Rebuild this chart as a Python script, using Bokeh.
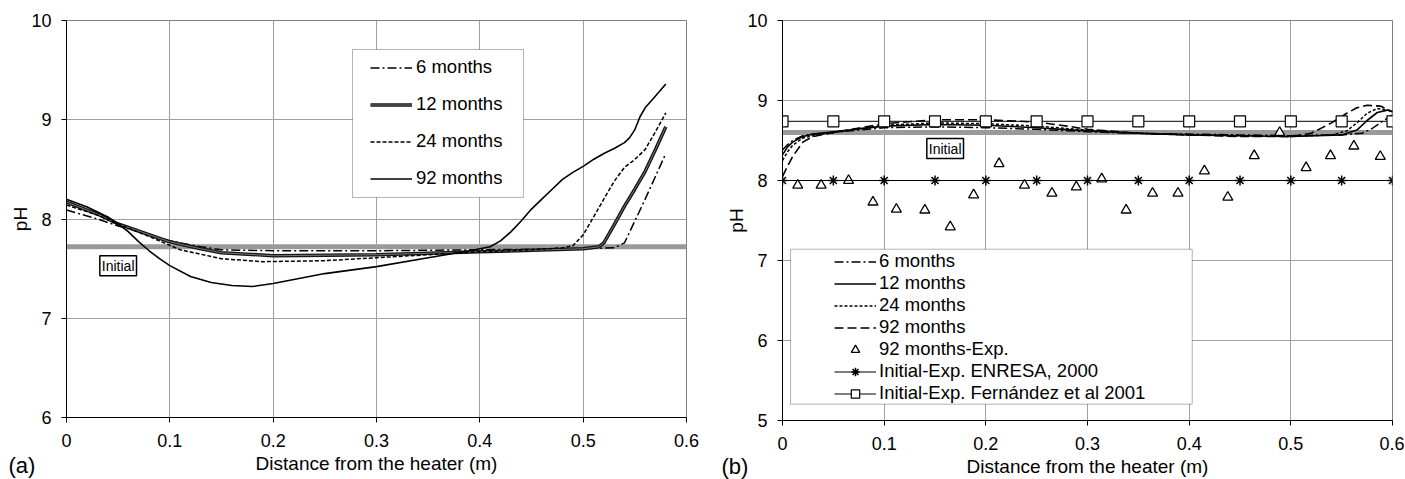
from bokeh.plotting import figure
from bokeh.layouts import row
from bokeh.models import (Legend, LegendItem, Label, BoxAnnotation, FixedTicker, Range1d)
from bokeh.embed import file_html
from bokeh.resources import INLINE

FONT = "Liberation Sans"

# ---------------- data: panel (a) ----------------
a_initial_x = [0.0, 0.6]
a_initial_y = [7.72, 7.72]

a6_x = [0.0, 0.03, 0.05, 0.1, 0.13, 0.15, 0.2, 0.3, 0.4, 0.5, 0.53, 0.54, 0.55, 0.56, 0.57, 0.58]
a6_y = [8.09, 8.0, 7.93, 7.78, 7.72, 7.69, 7.68, 7.68, 7.69, 7.7, 7.71, 7.76, 7.98, 8.2, 8.43, 8.66]

a12_x = [0.0, 0.03, 0.05, 0.1, 0.13, 0.15, 0.2, 0.3, 0.4, 0.5, 0.515, 0.52, 0.53, 0.54, 0.55, 0.56, 0.57, 0.58]
a12_y = [8.17, 8.05, 7.95, 7.77, 7.7, 7.66, 7.63, 7.64, 7.67, 7.7, 7.72, 7.76, 7.94, 8.13, 8.3, 8.48, 8.7, 8.93]

a24_x = [0.0, 0.03, 0.05, 0.09, 0.11, 0.15, 0.19, 0.25, 0.3, 0.35, 0.4, 0.45, 0.48, 0.49, 0.5, 0.51, 0.52, 0.53, 0.54, 0.55, 0.56, 0.57, 0.58]
a24_y = [8.14, 8.04, 7.95, 7.78, 7.69, 7.6, 7.57, 7.58, 7.61, 7.64, 7.67, 7.69, 7.71, 7.73, 7.84, 8.02, 8.2, 8.38, 8.52, 8.6, 8.7, 8.88, 9.07]

a92_x = [0.0, 0.02, 0.04, 0.05, 0.06, 0.07, 0.08, 0.09, 0.1, 0.12, 0.14, 0.16, 0.18, 0.2, 0.25, 0.3, 0.35, 0.39,
         0.41, 0.42, 0.43, 0.44, 0.45, 0.46, 0.47, 0.48, 0.49, 0.5, 0.51, 0.52, 0.53, 0.54, 0.545, 0.55, 0.555,
         0.56, 0.57, 0.58]
a92_y = [8.2, 8.12, 8.02, 7.95, 7.87, 7.77, 7.68, 7.6, 7.53, 7.42, 7.36, 7.33, 7.32, 7.35, 7.45, 7.52, 7.61, 7.68,
         7.72, 7.78, 7.87, 7.98, 8.1, 8.2, 8.3, 8.4, 8.47, 8.53, 8.6, 8.66, 8.71, 8.77, 8.82, 8.9, 9.03,
         9.12, 9.24, 9.36]

# ---------------- data: panel (b) ----------------
b_initial_x = [0.0, 0.6]
b_initial_y = [8.6, 8.6]

b6_x = [0.0, 0.005, 0.01, 0.02, 0.03, 0.05, 0.1, 0.15, 0.2, 0.25, 0.3, 0.35, 0.4, 0.45, 0.5, 0.55, 0.57, 0.58, 0.59, 0.6]
b6_y = [8.38, 8.45, 8.5, 8.56, 8.58, 8.6, 8.66, 8.67, 8.66, 8.64, 8.61, 8.59, 8.58, 8.57, 8.56, 8.57, 8.59, 8.65, 8.74, 8.82]

b12_x = [0.0, 0.005, 0.01, 0.02, 0.03, 0.05, 0.1, 0.15, 0.2, 0.25, 0.3, 0.35, 0.4, 0.45, 0.5, 0.55, 0.565, 0.575, 0.585, 0.595, 0.6]
b12_y = [8.32, 8.42, 8.48, 8.55, 8.58, 8.61, 8.68, 8.7, 8.69, 8.66, 8.62, 8.59, 8.57, 8.56, 8.55, 8.57, 8.63, 8.75, 8.85, 8.88, 8.86]

b24_x = [0.0, 0.005, 0.01, 0.02, 0.03, 0.05, 0.1, 0.15, 0.2, 0.25, 0.3, 0.35, 0.4, 0.45, 0.5, 0.54, 0.555, 0.565, 0.575, 0.585, 0.595, 0.6]
b24_y = [8.25, 8.36, 8.44, 8.53, 8.56, 8.6, 8.69, 8.72, 8.71, 8.68, 8.63, 8.59, 8.57, 8.56, 8.55, 8.57, 8.62, 8.72, 8.84, 8.9, 8.88, 8.86]

b92_x = [0.0, 0.005, 0.01, 0.02, 0.03, 0.05, 0.1, 0.15, 0.2, 0.25, 0.28, 0.3, 0.35, 0.4, 0.45, 0.5, 0.52, 0.54, 0.555,
         0.565, 0.575, 0.588, 0.6]
b92_y = [8.05, 8.18, 8.3, 8.48, 8.55, 8.6, 8.71, 8.76, 8.76, 8.73, 8.68, 8.64, 8.59, 8.57, 8.55, 8.55, 8.59, 8.72, 8.84,
         8.91, 8.94, 8.93, 8.86]

exp92_x = [0.015, 0.038, 0.065, 0.089, 0.112, 0.14, 0.165, 0.188, 0.213, 0.238, 0.265, 0.289, 0.314, 0.338,
           0.364, 0.389, 0.415, 0.438, 0.464, 0.489, 0.515, 0.539, 0.562, 0.588]
exp92_y = [7.94, 7.94, 8.0, 7.73, 7.64, 7.63, 7.42, 7.82, 8.21, 7.94, 7.84, 7.92, 8.02, 7.63,
           7.84, 7.84, 8.12, 7.79, 8.31, 8.6, 8.16, 8.31, 8.43, 8.3]

enresa_x = [0.0, 0.05, 0.1, 0.15, 0.2, 0.25, 0.3, 0.35, 0.4, 0.45, 0.5, 0.55, 0.6]
enresa_y = [8.0] * 13

fern_x = [0.0, 0.05, 0.1, 0.15, 0.2, 0.25, 0.3, 0.35, 0.4, 0.45, 0.5, 0.55, 0.6]
fern_y = [8.74] * 13

x_ticks = [0.0, 0.1, 0.2, 0.3, 0.4, 0.5, 0.6]
a_y_ticks = [6, 7, 8, 9, 10]
b_y_ticks = [5, 6, 7, 8, 9, 10]

labels_a = ["6 months", "12 months", "24 months", "92 months"]
labels_b = ["6 months", "12 months", "24 months", "92 months", "92 months-Exp.",
            "Initial-Exp. ENRESA, 2000", "Initial-Exp. Fernández et al 2001"]


def style(p, yticks):
    p.xaxis.ticker = FixedTicker(ticks=x_ticks)
    p.yaxis.ticker = FixedTicker(ticks=yticks)
    p.xaxis.major_label_overrides = {0: "0"}
    for ax in (p.xaxis[0], p.yaxis[0]):
        ax.axis_line_color = "black"
        ax.axis_line_width = 1
        ax.major_tick_line_color = "black"
        ax.major_tick_out = 5
        ax.major_tick_in = 0
        ax.minor_tick_out = 0
        ax.minor_tick_in = 0
        ax.major_label_text_font = FONT
        ax.major_label_text_font_size = "18px"
        ax.major_label_text_color = "black"
        ax.axis_label_text_font = FONT
        ax.axis_label_text_font_size = "19px"
        ax.axis_label_text_font_style = "normal"
        ax.axis_label_text_color = "black"
    p.xaxis.major_label_standoff = 11
    p.xaxis.axis_label_standoff = 3
    p.yaxis.major_label_standoff = 10
    p.yaxis.axis_label_standoff = -3
    p.xaxis.axis_label = "Distance from the heater (m)"
    p.yaxis.axis_label = "pH"
    p.grid.grid_line_color = "#a0a0a0"
    p.grid.grid_line_width = 1
    p.outline_line_color = "#808080"
    p.background_fill_color = "white"
    p.border_fill_color = "white"


# ---------------- panel (a) ----------------
p1 = figure(frame_width=620, frame_height=397, x_range=Range1d(0, 0.6), y_range=Range1d(6, 10),
            output_backend="svg", toolbar_location=None,
            min_border_left=66, min_border_right=14, min_border_top=20, min_border_bottom=61)
style(p1, a_y_ticks)

p1.line(a_initial_x, a_initial_y, line_color="#9a9a9a", line_width=5)
r6 = p1.line(a6_x, a6_y, line_color="black", line_width=1.5, line_dash="9 3 2 3")
r12a = p1.line(a12_x, a12_y, line_color="#151515", line_width=3.5)
r12b = p1.line(a12_x, a12_y, line_color="#777777", line_width=1)
r24 = p1.line(a24_x, a24_y, line_color="black", line_width=1.5, line_dash="4 2")
r92 = p1.line(a92_x, a92_y, line_color="black", line_width=1.6)

p1.add_layout(BoxAnnotation(left=0.2768, right=0.4423, top=9.708, bottom=8.217,
                            fill_color="white", fill_alpha=1, line_color="black", line_width=1))
leg1 = Legend(items=[LegendItem(label=labels_a[0], renderers=[r6]),
                     LegendItem(label=labels_a[1], renderers=[r12a, r12b]),
                     LegendItem(label=labels_a[2], renderers=[r24]),
                     LegendItem(label=labels_a[3], renderers=[r92])],
              location=(295, 219), padding=9, spacing=15, margin=0,
              glyph_width=42, glyph_height=21, label_height=21, label_standoff=4,
              label_text_font=FONT, label_text_font_size="18.5px", label_text_color="black",
              background_fill_alpha=0, border_line_alpha=0)
p1.add_layout(leg1)

p1.add_layout(Label(x=0.050, y=7.53, text="Initial", text_font=FONT, text_font_size="14px",
                    text_align="center", text_baseline="middle", text_color="black",
                    border_line_color="black", border_line_width=1.5,
                    background_fill_color="white", padding=2))
# panel tag placed in the side panel so it is not clipped to the frame
p1.add_layout(Label(x=-0.0561, y=5.39, text="(a)", text_font=FONT, text_font_size="22px",
                    text_align="left", text_baseline="bottom", text_color="black"), "below")

# ---------------- panel (b) ----------------
p2 = figure(frame_width=610, frame_height=400, x_range=Range1d(0, 0.6), y_range=Range1d(5, 10),
            output_backend="svg", toolbar_location=None,
            min_border_left=82, min_border_right=12, min_border_top=19, min_border_bottom=59)
style(p2, b_y_ticks)

p2.line(b_initial_x, b_initial_y, line_color="#9a9a9a", line_width=5)
s6 = p2.line(b6_x, b6_y, line_color="black", line_width=1.5, line_dash="9 3 2 3")
s12 = p2.line(b12_x, b12_y, line_color="black", line_width=1.6)
s24 = p2.line(b24_x, b24_y, line_color="black", line_width=1.5, line_dash="3 2")
s92 = p2.line(b92_x, b92_y, line_color="black", line_width=1.6, line_dash="9 4")
sexp = p2.scatter(exp92_x, exp92_y, marker="triangle", size=10, fill_color="white",
                  line_color="black", line_width=1.3)
enl = p2.line(enresa_x, enresa_y, line_color="black", line_width=1)
ens = p2.scatter(enresa_x, enresa_y, marker="asterisk", size=10, line_color="black", line_width=1.5)
fel = p2.line(fern_x, fern_y, line_color="black", line_width=1)
fes = p2.scatter(fern_x, fern_y, marker="square", size=11, fill_color="white",
                 line_color="black", line_width=1.2)

p2.add_layout(BoxAnnotation(left=0.0079, right=0.403, top=7.141, bottom=5.204,
                            fill_color="white", fill_alpha=1, line_color="black", line_width=1))
leg2 = Legend(items=[LegendItem(label=labels_b[0], renderers=[s6]),
                     LegendItem(label=labels_b[1], renderers=[s12]),
                     LegendItem(label=labels_b[2], renderers=[s24]),
                     LegendItem(label=labels_b[3], renderers=[s92]),
                     LegendItem(label=labels_b[4], renderers=[sexp]),
                     LegendItem(label=labels_b[5], renderers=[enl, ens]),
                     LegendItem(label=labels_b[6], renderers=[fel, fes])],
              location=(50, 14), padding=2, spacing=0, margin=0,
              glyph_width=42, glyph_height=21, label_height=21, label_standoff=3,
              label_text_font=FONT, label_text_font_size="18.5px", label_text_color="black",
              background_fill_alpha=0, border_line_alpha=0)
p2.add_layout(leg2)

p2.add_layout(Label(x=0.160, y=8.40, text="Initial", text_font=FONT, text_font_size="14px",
                    text_align="center", text_baseline="middle", text_color="black",
                    border_line_color="black", border_line_width=1.5,
                    background_fill_color="white", padding=2))
p2.add_layout(Label(x=-0.060, y=4.27, text="(b)", text_font=FONT, text_font_size="22px",
                    text_align="left", text_baseline="bottom", text_color="black"), "below")

layout = row(p1, p2)
open("out.html", "w").write(file_html(layout, INLINE))
